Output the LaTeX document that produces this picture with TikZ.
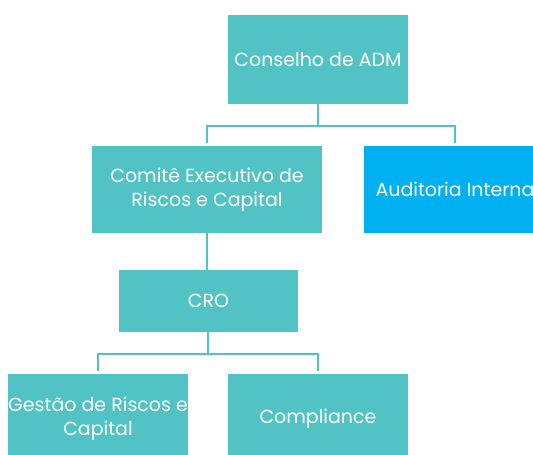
\documentclass[tikz,border=0pt]{standalone}
\usepackage{fontspec}
\setmainfont{Poppins}
\usepackage{tikz}
\usetikzlibrary{calc,positioning}
\definecolor{teal}{RGB}{82,195,197}
\definecolor{azul}{RGB}{0,176,240}

\tikzset{
  caixa/.style={fill=teal, text=white, align=center, inner sep=0pt,
    minimum width=180pt, font=\fontsize{19}{23.5}\selectfont},
  ligacao/.style={draw=teal, line width=2pt}
}

\begin{document}
\begin{tikzpicture}[x=1pt,y=-1pt]
    \clip (0,0) rectangle (533,455);
    \useasboundingbox (0,0) rectangle (533,455);
    % caixas
    \node[caixa, minimum height=89pt] (C) at (318,59.5) {Conselho de ADM};
    \node[caixa, minimum width=230pt, minimum height=87pt] (E) at (207,189.5) {Comitê Executivo de\\Riscos e Capital};
    \node[caixa, fill=azul, minimum width=182pt, minimum height=87pt] (A) at (455,189.5) {Auditoria Interna};
    \node[caixa, minimum width=179pt, minimum height=62pt] (R) at (208.5,301) {CRO};
    \node[caixa, minimum height=89pt] (G) at (98,418.5) {Gestão de Riscos e\\Capital};
    \node[caixa, minimum height=89pt] (P) at (318,418.5) {Compliance};

    % ligacoes
    \coordinate (c1) at (318,126);
    \coordinate (c2) at (208,354);
    \draw[ligacao] (C.south) -- (c1);
    \draw[ligacao] (207,143) |- (c1) -| (455,143);
    \draw[ligacao] (E.south) -- (R.north -| E.south);
    \draw[ligacao] (R.south -| c2) -- (c2);
    \draw[ligacao] (98,371) |- (c2) -| (318,371);
\end{tikzpicture}
\end{document}
